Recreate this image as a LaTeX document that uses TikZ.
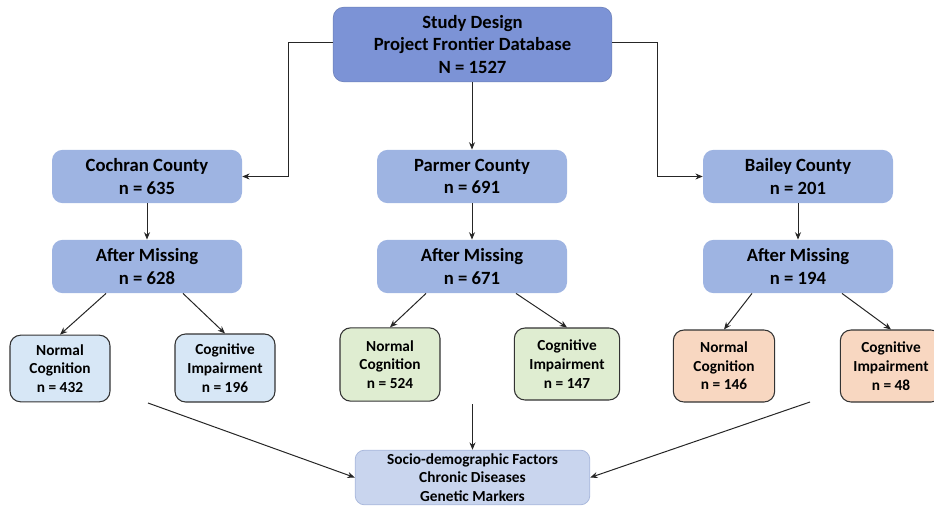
\documentclass[tikz,border=0pt]{standalone}
\usepackage{fontspec}
\setmainfont{Carlito}
\usetikzlibrary{arrows.meta}
\definecolor{topblue}{RGB}{124,147,214}
\definecolor{midblue}{RGB}{158,180,226}
\definecolor{leafblue}{RGB}{215,231,246}
\definecolor{leafgreen}{RGB}{223,237,209}
\definecolor{leaforange}{RGB}{248,215,193}
\definecolor{botblue}{RGB}{201,213,238}
\definecolor{botedge}{RGB}{170,185,220}
\tikzset{
  big/.style={font=\fontsize{14}{17}\selectfont\bfseries, align=center, rounded corners=8pt, inner sep=0pt},
  topbox/.style={big, fill=topblue, draw=topblue!85!black, line width=0.4pt, minimum width=209pt, minimum height=56pt},
  countybox/.style={big, fill=midblue, minimum width=142.5pt, minimum height=40pt},
  leaf/.style={font=\fontsize{11.5}{14}\selectfont\bfseries, align=center, rounded corners=8pt, draw=black!80, line width=0.8pt, inner sep=0pt, minimum height=51pt},
  botbox/.style={font=\fontsize{11.5}{14}\selectfont\bfseries, align=center, rounded corners=7pt, fill=botblue, draw=botedge, line width=0.6pt, inner sep=0pt, minimum width=176pt, minimum height=41pt},
  arr/.style={-{Stealth[length=5.5pt,width=4.5pt]}, line width=0.75pt, black!85}
}
\begin{document}
\begin{tikzpicture}[x=0.75pt,y=-0.75pt]
\useasboundingbox (0,0) rectangle (934,506);
\node[topbox] (top) at (472.5,44.5) {Study Design\\Project Frontier Database\\N = 1527};

\node[countybox] (cc) at (147,176.5) {Cochran County\\n = 635};
\node[countybox] (pc) at (472,176.5) {Parmer County\\n = 691};
\node[countybox] (bc) at (798,176.5) {Bailey County\\n = 201};

\node[countybox] (cm) at (147,266.5) {After Missing\\n = 628};
\node[countybox] (pm) at (472,266.5) {After Missing\\n = 671};
\node[countybox] (bm) at (798,266.5) {After Missing\\n = 194};

\node[leaf, fill=leafblue, minimum width=75pt, minimum height=50pt] (cn) at (60,368.5) {Normal\\Cognition\\n = 432};
\node[leaf, fill=leafblue, minimum width=75pt, minimum height=51pt] (ci) at (225,368) {Cognitive\\Impairment\\n = 196};
\node[leaf, fill=leafgreen, minimum width=75pt, minimum height=55pt] (pn) at (390,364.5) {Normal\\Cognition\\n = 524};
\node[leaf, fill=leafgreen, minimum width=79pt, minimum height=54pt] (pi) at (567,364) {Cognitive\\Impairment\\n = 147};
\node[leaf, fill=leaforange, minimum width=76pt, minimum height=54pt] (bn) at (724,366) {Normal\\Cognition\\n = 146};
\node[leaf, fill=leaforange, minimum width=76pt, minimum height=54pt] (bi) at (891,366) {Cognitive\\Impairment\\n = 48};

\node[botbox] (bot) at (472.5,477.5) {Socio-demographic Factors\\Chronic Diseases\\Genetic Markers};

\coordinate (tl) at (288,43);
\coordinate (tr) at (657,43);
\draw[arr] (top.west |- tl) -- (tl) |- (cc.east);
\draw[arr] (top.east |- tr) -- (tr) |- (bc.west);
\draw[arr] (top.south -| pc.north) -- (pc.north);

\draw[arr] (cc.south) -- (cm.north);
\draw[arr] (pc.south) -- (pm.north);
\draw[arr] (bc.south) -- (bm.north);

\draw[arr] (cm.south -| 106,0) -- (cn.north);
\draw[arr] (cm.south -| 183,0) -- (ci.north);
\draw[arr] (pm.south -| 426,0) -- (pn.north);
\draw[arr] (pm.south -| 516,0) -- (pi.north);
\draw[arr] (bm.south -| 752,0) -- (bn.north);
\draw[arr] (bm.south -| 842,0) -- (bi.north);

\coordinate (s1) at (148,403);
\coordinate (s2) at (472,404);
\coordinate (s3) at (810,402);
\draw[arr] (s1) -- (bot.west);
\draw[arr] (s2 -| bot.north) -- (bot.north);
\draw[arr] (s3) -- (bot.east);
\end{tikzpicture}
\end{document}
